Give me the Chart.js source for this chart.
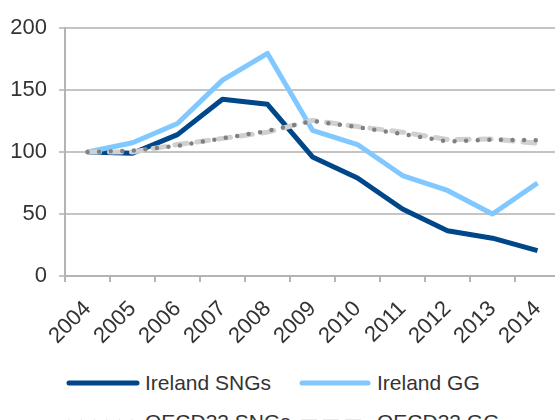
<!DOCTYPE html>
<html>
<head>
<meta charset="utf-8">
<script src="https://cdn.jsdelivr.net/npm/chart.js@4.4.1/dist/chart.umd.min.js"></script>
<style>
  html, body { margin: 0; padding: 0; background: #fff; overflow: hidden; width: 555px; height: 420px; }
  #wrap { position: absolute; left: 0; top: 0; width: 560px; height: 350px; }
  .legend { position: absolute; left: 0; top: 0; font-family: "Liberation Sans", Arial, sans-serif; font-size: 21px; color: #333; }
  .item { position: absolute; height: 26px; line-height: 26px; white-space: nowrap; }
  .item svg { position: absolute; left: 0; top: 8px; }
  .item span { position: absolute; top: 0; }
</style>
</head>
<body>
<div id="wrap"><canvas id="chart"></canvas></div>
<div class="legend">
  <div class="item" style="left:65px; top:370px;">
    <svg width="76" height="10"><line x1="4" y1="5" x2="72" y2="5" stroke="#00478a" stroke-width="5" stroke-linecap="round"/></svg>
    <span style="left:80px;">Ireland SNGs</span>
  </div>
  <div class="item" style="left:298px; top:370px;">
    <svg width="76" height="10"><line x1="4" y1="5" x2="70" y2="5" stroke="#80c8ff" stroke-width="5" stroke-linecap="round"/></svg>
    <span style="left:79px;">Ireland GG</span>
  </div>
  <div class="item" style="left:65px; top:409px;">
    <svg width="76" height="10"><line x1="4" y1="5" x2="70" y2="5" stroke="#808080" stroke-width="4.5" stroke-linecap="round" stroke-dasharray="0 12.6"/></svg>
    <span style="left:80px;">OECD33 SNGs</span>
  </div>
  <div class="item" style="left:298px; top:409px;">
    <svg width="76" height="10"><line x1="4" y1="5" x2="66" y2="5" stroke="#d0d0d0" stroke-width="5" stroke-linecap="round" stroke-dasharray="14 8"/></svg>
    <span style="left:79px;">OECD33 GG</span>
  </div>
</div>
<script>
// Index values (2004 = 100)
const years = ['2004', '2005', '2006', '2007', '2008', '2009', '2010', '2011', '2012', '2013', '2014'];
const irelandSngs = [100, 99, 114, 142.5, 138.5, 96, 79, 54, 36.5, 30.5, 20.5];
const irelandGg = [100, 107.5, 123, 158, 179.5, 117.5, 106, 81, 69, 50, 75];
const oecdSngs = [100, 101, 105, 111, 117, 125, 120, 114.5, 108.5, 110, 109.5];
const oecdGg = [100, 100, 106, 111, 116, 125.5, 120.5, 116, 110, 110.5, 107];

const fontFamily = '"Liberation Sans", Arial, sans-serif';

document.addEventListener('DOMContentLoaded', function() {
    const ctx = document.getElementById('chart').getContext('2d');
    new Chart(ctx, {
        type: 'line',
        data: {
            labels: years,
            datasets: [
                {
                    label: 'Ireland SNGs',
                    data: irelandSngs,
                    borderColor: '#00478a',
                    borderWidth: 5,
                    borderJoinStyle: 'round',
                    order: 4
                },
                {
                    label: 'Ireland GG',
                    data: irelandGg,
                    borderColor: '#80c8ff',
                    borderWidth: 5,
                    borderJoinStyle: 'round',
                    order: 3
                },
                {
                    label: 'OECD33 SNGs',
                    data: oecdSngs,
                    borderColor: '#808080',
                    borderWidth: 4.5,
                    borderDash: [0, 11.6],
                    borderCapStyle: 'round',
                    order: 1
                },
                {
                    label: 'OECD33 GG',
                    data: oecdGg,
                    borderColor: '#d0d0d0',
                    borderWidth: 5,
                    borderDash: [12, 10],
                    borderCapStyle: 'round',
                    order: 2
                }
            ]
        },
        options: {
            responsive: true,
            maintainAspectRatio: false,
            animation: false,
            elements: {
                point: { radius: 0 },
                line: { tension: 0, fill: false }
            },
            layout: {
                padding: { top: 28, left: 0, right: 0, bottom: 4 }
            },
            plugins: {
                legend: { display: false },
                tooltip: { enabled: false }
            },
            scales: {
                x: {
                    offset: true,
                    grid: {
                        offset: true,
                        drawOnChartArea: false,
                        color: '#b4b4b4',
                        lineWidth: 2,
                        tickLength: 6
                    },
                    border: { color: '#b4b4b4', width: 2 },
                    ticks: {
                        minRotation: 45,
                        maxRotation: 45,
                        padding: 14,
                        color: '#333',
                        font: { family: fontFamily, size: 22 }
                    },
                    afterFit: function(scale) {
                        scale.height = 70;
                        scale.paddingLeft = 0;
                        scale.paddingRight = 0;
                    }
                },
                y: {
                    min: 0,
                    max: 200,
                    grid: {
                        color: '#c4c4c4',
                        lineWidth: 2,
                        tickLength: 6
                    },
                    border: { color: '#b4b4b4', width: 2 },
                    ticks: {
                        stepSize: 50,
                        padding: 12,
                        color: '#333',
                        font: { family: fontFamily, size: 22 }
                    },
                    afterFit: function(scale) { scale.width = 65; }
                }
            }
        }
    });
});
</script>
</body>
</html>
